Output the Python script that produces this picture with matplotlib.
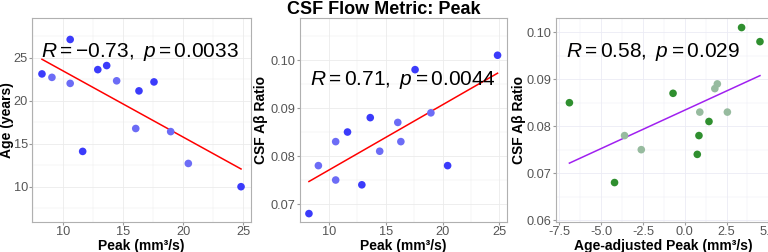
import numpy as np
import matplotlib
matplotlib.use('Agg')
import matplotlib.pyplot as plt
from matplotlib.ticker import MultipleLocator

plt.rcParams['font.family'] = ['Liberation Sans', 'DejaVu Sans']
plt.rcParams['mathtext.fontset'] = 'custom'
plt.rcParams['mathtext.rm'] = 'Liberation Sans'
plt.rcParams['mathtext.it'] = 'Liberation Sans:italic'

# data
peak = [8.25, 9.08, 10.6, 10.6, 11.64, 12.9, 13.64, 14.47, 16.06, 16.33, 17.58, 18.97, 20.44, 24.83]
age = [23.1, 22.7, 27.1, 22.0, 14.1, 23.6, 24.07, 22.3, 16.76, 21.13, 22.17, 16.4, 12.7, 10.0]
age_shade = [0, 1, 0, 1, 0, 0, 0, 1, 1, 0, 0, 1, 1, 0]

peak2 = [8.25, 9.08, 10.6, 10.6, 11.64, 12.9, 13.64, 14.47, 16.06, 16.33, 17.58, 18.97, 20.44, 24.83]
ratio = [0.068, 0.078, 0.083, 0.075, 0.085, 0.074, 0.088, 0.081, 0.087, 0.083, 0.098, 0.089, 0.078, 0.101]
ratio_shade = [0, 1, 1, 1, 0, 0, 0, 1, 1, 1, 0, 1, 0, 0]

adj_peak = [-6.9, -4.2, -3.6, -2.6, -0.7, 0.75, 0.85, 0.9, 1.45, 1.8, 1.95, 2.55, 3.4, 4.5]
adj_ratio = [0.085, 0.068, 0.078, 0.075, 0.087, 0.074, 0.078, 0.083, 0.081, 0.088, 0.089, 0.083, 0.101, 0.098]
adj_shade = [0, 0, 1, 1, 0, 0, 0, 1, 0, 1, 1, 1, 0, 0]

labels = [r'$R = -\mathrm{0.73},\ p = \mathrm{0.0033}$',
          r'$R = \mathrm{0.71},\ p = \mathrm{0.0044}$',
          r'$R = \mathrm{0.58},\ p = \mathrm{0.029}$']

W, H = 768, 252
fig = plt.figure(figsize=(W / 100, H / 100), dpi=100)

def box(l, r):
    return [l / W, 1 - 222 / H, (r - l) / W, (222 - 18.3) / H]

ax1 = fig.add_axes(box(32, 251))
ax2 = fig.add_axes(box(299.5, 507))
ax3 = fig.add_axes(box(555.7, 770))


def style(ax, gridcol):
    for s in ax.spines.values():
        s.set_color('#b0b0b0')
        s.set_linewidth(0.8)
    ax.grid(True, which='major', color=gridcol, lw=0.6)
    ax.grid(True, which='minor', color=gridcol, lw=0.35)
    ax.set_axisbelow(True)
    ax.tick_params(which='major', length=2.2, color='#9a9a9a', labelsize=9.2,
                   labelcolor='#555555', pad=0.8)
    ax.tick_params(which='minor', length=0)


def scatter_fit(ax, x, y, shade, dark, light, linecol):
    x = np.array(x)
    y = np.array(y)
    sh = np.array(shade)
    ax.scatter(x[sh == 1], y[sh == 1], s=30, color=light, edgecolors='none', zorder=3)
    ax.scatter(x[sh == 0], y[sh == 0], s=30, color=dark, edgecolors='none', zorder=3)
    m, b = np.polyfit(x, y, 1)
    xs = np.array([x.min(), x.max()])
    ax.plot(xs, m * xs + b, color=linecol, lw=1.1, zorder=2)


lab = dict(fontsize=10, fontweight='bold')

# panel 1
scatter_fit(ax1, peak, age, age_shade, '#3b3bfb', '#6c6cf6', '#ff0000')
ax1.set_xlim(7.42, 25.66)
ax1.set_ylim(5.9, 29.56)
ax1.xaxis.set_major_locator(MultipleLocator(5))
ax1.xaxis.set_minor_locator(MultipleLocator(2.5))
ax1.yaxis.set_major_locator(MultipleLocator(5))
ax1.yaxis.set_minor_locator(MultipleLocator(2.5))
style(ax1, '#ebebeb')
ax1.set_xlabel('Peak (mm³/s)', labelpad=0.5, **lab)
ax1.set_ylabel('Age (years)', **lab)
ax1.yaxis.set_label_coords((14 - 32) / 219, 0.5)
ax1.text(8.2, 25.1, labels[0], fontsize=15, ha='left', va='baseline', zorder=4)

# panel 2
scatter_fit(ax2, peak2, ratio, ratio_shade, '#3b3bfb', '#6c6cf6', '#ff0000')
ax2.set_xlim(7.42, 25.66)
ax2.set_ylim(0.06625, 0.1087)
ax2.xaxis.set_major_locator(MultipleLocator(5))
ax2.xaxis.set_minor_locator(MultipleLocator(2.5))
ax2.yaxis.set_major_locator(MultipleLocator(0.01))
ax2.yaxis.set_minor_locator(MultipleLocator(0.005))
ax2.yaxis.set_major_formatter(plt.FormatStrFormatter('%.2f'))
style(ax2, '#ebebeb')
ax2.set_xlabel('Peak (mm³/s)', labelpad=0.5, **lab)
ax2.set_ylabel('CSF Aβ Ratio', **lab)
ax2.yaxis.set_label_coords((268 - 299.5) / 207.5, 0.5)
ax2.text(8.36, 0.0948, labels[1], fontsize=15, ha='left', va='baseline', zorder=4)

# panel 3
scatter_fit(ax3, adj_peak, adj_ratio, adj_shade, '#2f8f2f', '#97bb9f', '#a020f0')
ax3.set_xlim(-7.72, 5.1)
ax3.set_ylim(0.0596, 0.10297)
ax3.xaxis.set_major_locator(MultipleLocator(2.5))
ax3.xaxis.set_minor_locator(MultipleLocator(1.25))
ax3.yaxis.set_major_locator(MultipleLocator(0.01))
ax3.yaxis.set_minor_locator(MultipleLocator(0.005))
ax3.xaxis.set_major_formatter(plt.FormatStrFormatter('%.1f'))
ax3.yaxis.set_major_formatter(plt.FormatStrFormatter('%.2f'))
style(ax3, '#ebebf5')
ax3.set_xlabel('Age-adjusted Peak (mm³/s)', labelpad=0.5, **lab)
ax3.set_ylabel('CSF Aβ Ratio', **lab)
ax3.yaxis.set_label_coords((526 - 555.7) / 214.3, 0.5)
ax3.text(-7.1, 0.0947, labels[2], fontsize=15, ha='left', va='baseline', zorder=4)

fig.text(0.5, 0.995, 'CSF Flow Metric: Peak', ha='center', va='top',
         fontsize=13, fontweight='bold')

fig.savefig('out.png', dpi=100)
